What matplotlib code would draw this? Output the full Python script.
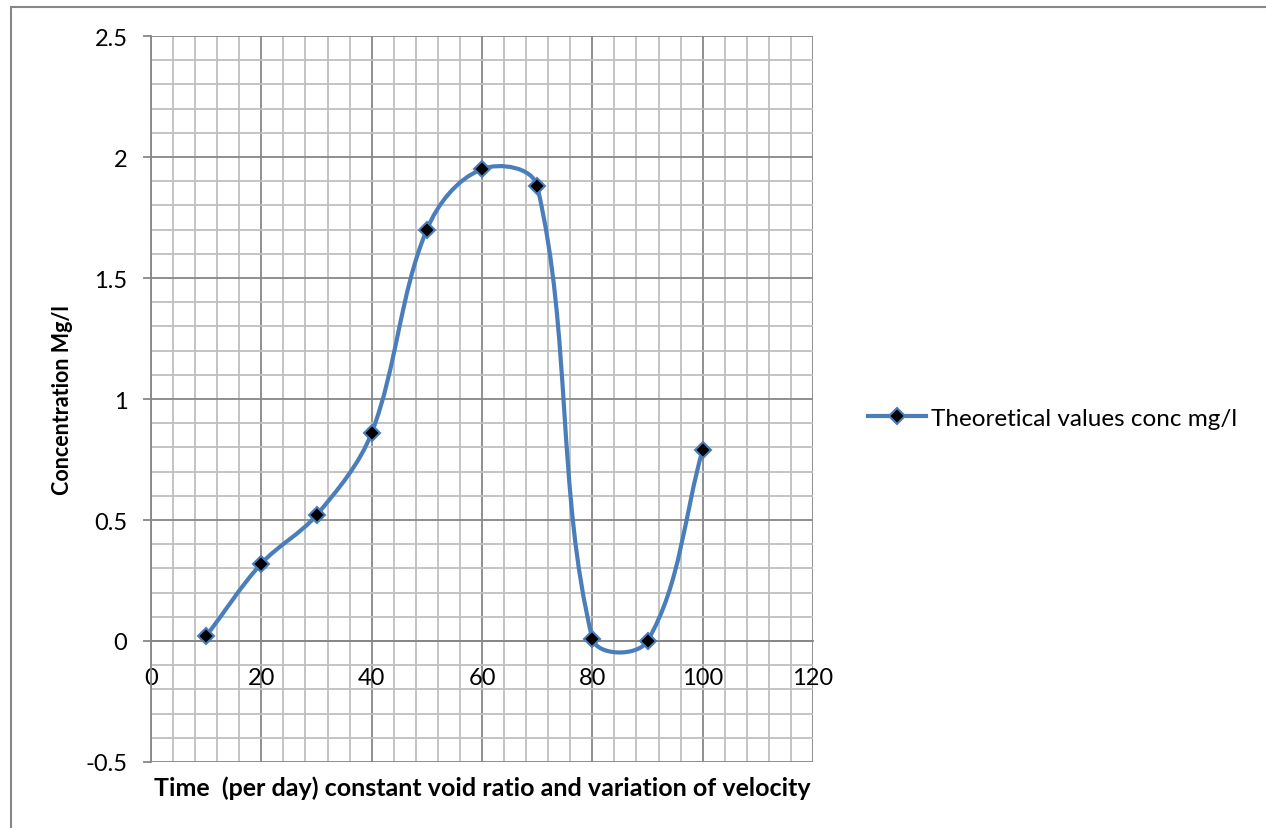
import numpy as np
import matplotlib
matplotlib.use("Agg")
import matplotlib.pyplot as plt
from matplotlib.path import Path
from matplotlib.patches import PathPatch
from matplotlib.lines import Line2D
from matplotlib.ticker import MultipleLocator

plt.rcParams['font.family'] = ['Lato', 'DejaVu Sans']

# data
days = [10, 20, 30, 40, 50, 60, 70, 80, 90, 100]
conc = [0.02, 0.32, 0.52, 0.86, 1.70, 1.95, 1.88, 0.01, 0.00, 0.79]
series_name = 'Theoretical values conc mg/l'

blue = '#4A7EBB'
major_grid = '#878787'
minor_grid = '#BFBFBF'

fig = plt.figure(figsize=(12.66, 8.29), dpi=100)
W, H = 1266, 829
ax = fig.add_axes([151 / W, 1 - 763 / H, (813 - 151) / W, (763 - 37) / H])

ax.set_xlim(0, 120)
ax.set_ylim(-0.5, 2.5)
ax.xaxis.set_major_locator(MultipleLocator(20))
ax.xaxis.set_minor_locator(MultipleLocator(4))
ax.yaxis.set_major_locator(MultipleLocator(0.5))
ax.yaxis.set_minor_locator(MultipleLocator(0.1))
ax.set_yticks([-0.5, 0, 0.5, 1, 1.5, 2, 2.5])
ax.set_yticklabels(['-0.5', '0', '0.5', '1', '1.5', '2', '2.5'])
ax.set_xticks([0, 20, 40, 60, 80, 100, 120])
ax.set_xticklabels(['0', '20', '40', '60', '80', '100', '120'])

ax.grid(which='major', color=major_grid, linewidth=1.3)
ax.grid(which='minor', color=minor_grid, linewidth=1.3)
ax.set_axisbelow(True)

for s in ['top', 'right']:
    ax.spines[s].set_visible(False)
ax.spines['left'].set_color(major_grid)
ax.spines['left'].set_linewidth(1.3)
ax.spines['bottom'].set_position(('data', 0))
ax.spines['bottom'].set_color(major_grid)
ax.spines['bottom'].set_linewidth(1.3)

ax.tick_params(axis='y', which='major', length=6, width=1.3, color=major_grid,
               pad=11, labelsize=17)
ax.tick_params(axis='x', which='major', length=0, pad=19, labelsize=17)
ax.tick_params(which='minor', length=0)

ax.set_xlabel('Time  (per day) constant void ratio and variation of velocity',
              fontsize=18, fontweight='bold', labelpad=0)
ax.xaxis.set_label_coords(0.5, -0.018)
ax.set_ylabel('Concentration Mg/l', fontsize=15.5, fontweight='bold')
ax.yaxis.set_label_coords(-0.118, 0.5)

# Excel-style smoothed line: Bezier through the points, tangents from the
# neighbours, handle length a third of each segment (in screen space)
pts = ax.transData.transform(np.column_stack([days, conc]))
n = len(pts)
verts = [pts[0]]
codes = [Path.MOVETO]
for i in range(n - 1):
    p0 = pts[max(i - 1, 0)]
    p1 = pts[i]
    p2 = pts[i + 1]
    p3 = pts[min(i + 2, n - 1)]
    seg = np.hypot(*(p2 - p1))
    t1 = p2 - p0
    t1 = t1 / np.hypot(*t1)
    t2 = p3 - p1
    t2 = t2 / np.hypot(*t2)
    c1 = p1 + t1 * seg / 3
    c2 = p2 - t2 * seg / 3
    verts += [c1, c2, p2]
    codes += [Path.CURVE4] * 3
verts = ax.transData.inverted().transform(np.array(verts))
curve = PathPatch(Path(verts, codes), facecolor='none', edgecolor=blue,
                  linewidth=3, capstyle='round', joinstyle='round', zorder=3)
ax.add_patch(curve)
ax.plot(days, conc, linestyle='none', marker='D', markersize=8.5,
        markerfacecolor='black', markeredgecolor=blue, markeredgewidth=1.5,
        zorder=4, clip_on=False)

handle = Line2D([], [], color=blue, linewidth=3, marker='D', markersize=8.5,
                markerfacecolor='black', markeredgecolor=blue,
                markeredgewidth=1.5)
fig.legend([handle], [series_name], loc='center left',
           bbox_to_anchor=(868 / W, 1 - 419 / H), frameon=False, fontsize=17.5,
           handlelength=2.4, handletextpad=0.2, borderpad=0, borderaxespad=0)

# chart area border (left and top edges visible)
fig.add_artist(Line2D([11 / W, 11 / W], [0, 1 - 8 / H], color=major_grid,
                      linewidth=1.5, transform=fig.transFigure))
fig.add_artist(Line2D([11 / W, 1], [1 - 8 / H, 1 - 8 / H], color=major_grid,
                      linewidth=1.5, transform=fig.transFigure))

fig.savefig('out.png', dpi=100)
